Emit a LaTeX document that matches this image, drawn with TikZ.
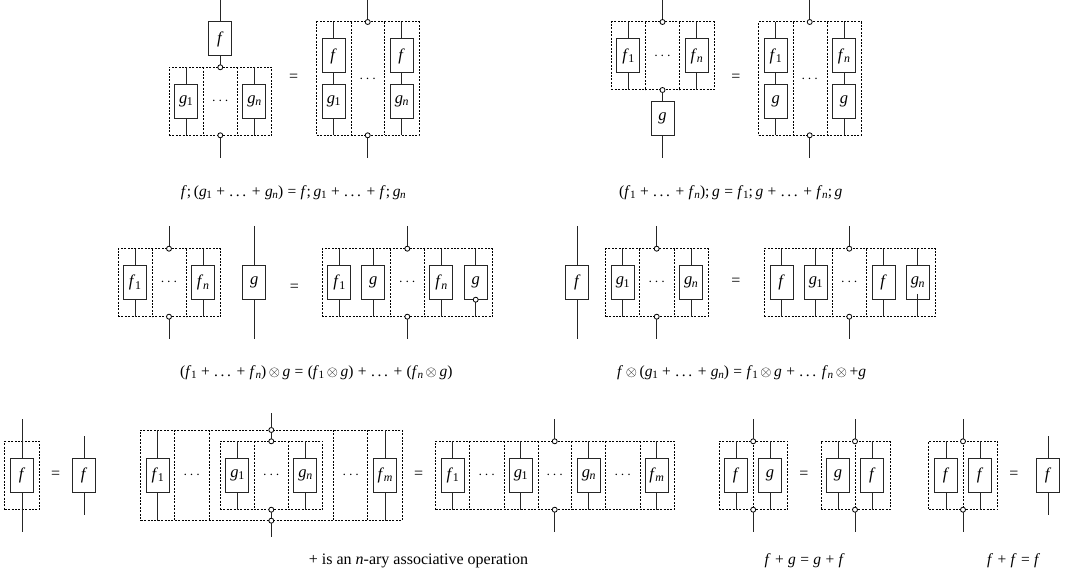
\documentclass[tikz,border=0pt]{standalone}
\usepackage{fontspec}
\setmainfont{Liberation Serif}
\newcommand\sbs[1]{\kern-0.02em\raisebox{-0.14em}{\scalebox{0.72}{#1}}}
\newcommand\Fi{\textit{f}\sbs{1}}
\newcommand\Fn{\textit{f}\sbs{\textit{n}}}
\newcommand\Fm{\textit{f}\sbs{\textit{m}}}
\newcommand\Gi{\textit{g}\sbs{1}}
\newcommand\Gn{\textit{g}\sbs{\textit{n}}}
\newcommand\F{\textit{f}}
\newcommand\G{\textit{g}}
\newcommand\Tens{\,$\otimes$\,}
\newcommand\Dts{.\kern0.17em.\kern0.17em.}
\newcommand\Sm{;\kern0.17em}
\newcommand\capsp{\spaceskip=0.28em\relax}
\tikzset{
  wire/.style={line width=0.9pt,draw=black!85},
  gatebox/.style={draw=black!85,line width=1pt,fill=white,minimum width=23pt,minimum height=34pt,inner sep=0pt,outer sep=0pt,font=\fontsize{16.5}{18}\selectfont},
  dashframe/.style={draw=black,line width=1pt,dash pattern=on 2pt off 1.4pt,inner sep=0pt,outer sep=0pt},
  dashline/.style={draw=black,line width=1pt,dash pattern=on 2pt off 1.4pt},
  junc/.style={circle,draw=black,line width=0.8pt,fill=white,minimum size=5pt,inner sep=0pt,outer sep=0pt},
  dotslabel/.style={inner sep=0pt,font=\fontsize{15.5}{18}\selectfont},
  eqlabel/.style={inner sep=0pt,font=\fontsize{16}{18}\selectfont},
  caption/.style={inner sep=0pt,font=\fontsize{15.5}{18}\selectfont,execute at begin node=\capsp},
  captiontext/.style={inner sep=0pt,font=\fontsize{16}{18}\selectfont},
}
% name, x left, x right, y top, y bottom, divider xs
\newcommand\frm[6]{%
  \node[dashframe,anchor=north west,minimum width={(#3-#2)*1pt},minimum height={(#5-#4)*1pt}] (#1) at (#2,#4) {};
  \foreach \dx in {#6}{\coordinate (dv) at (\dx,0); \draw[dashline] (dv |- #1.north) -- (dv |- #1.south);}
}
% name, x, y, label
\newcommand\gt[4]{\node[gatebox] (#1) at (#2,#3) {#4};}
% gate wired to the top and bottom of a frame: name, frame, x, y, label
\newcommand\gf[5]{\gt{#1}{#3}{#4}{#5}\draw[wire] (#1.north |- #2.north) -- (#1.north); \draw[wire] (#1.south) -- (#1.south |- #2.south);}
% junctions with outside wires: name, frame, x, y of upper end, y of lower end
\newcommand\jn[5]{%
  \coordinate (#1-a) at (#3,#4); \coordinate (#1-b) at (#3,#5);
  \node[junc] (#1-t) at (#1-a |- #2.north) {}; \node[junc] (#1-d) at (#1-b |- #2.south) {};
  \draw[wire] (#1-a) -- (#1-t); \draw[wire] (#1-d) -- (#1-b);
}
\newcommand\dt[3]{\node[dotslabel] (#1) at (#2,#3) {$\cdots$};}
\newcommand\eq[3]{\node[eqlabel] (#1) at (#2,#3) {=};}
\begin{document}
\begin{tikzpicture}[x=1pt,y=-1pt]
\useasboundingbox (0,0) rectangle (1074,577);
% ---- row 1 left
\frm{a}{169}{271.7}{67.3}{135.3}{203.3,237.3}
\gf{a1}{a}{186}{101.3}{\Gi}\gf{a2}{a}{254.3}{101.3}{\Gn}
\dt{ad}{220.3}{101}
\gt{af}{220.3}{39}{\F}
\coordinate (atop) at (220.3,0); \coordinate (abot) at (220.3,158);
\node[junc] (aj1) at (220.3,67.3) {}; \node[junc] (aj2) at (220.3,135.3) {};
\draw[wire] (atop) -- (af.north); \draw[wire] (af.south) -- (aj1); \draw[wire] (aj2) -- (abot);
\eq{ae}{293.7}{77.7}
\frm{b}{316.7}{419}{22}{135.3}{351,384.7}
\gt{b1}{333.7}{56}{\F}\gt{b2}{333.7}{101.3}{\Gi}
\gt{b3}{401.7}{56}{\F}\gt{b4}{401.7}{101.3}{\Gn}
\draw[wire] (b1.north |- b.north) -- (b1.north); \draw[wire] (b1.south) -- (b2.north); \draw[wire] (b2.south) -- (b2.south |- b.south);
\draw[wire] (b3.north |- b.north) -- (b3.north); \draw[wire] (b3.south) -- (b4.north); \draw[wire] (b4.south) -- (b4.south |- b.south);
\dt{bd}{367.7}{79}
\jn{bj}{b}{367.7}{0}{158}
\node[caption] (c1) at (293.3,192.5) {\F\Sm(\Gi{} + \Dts{} + \Gn) = \F\Sm\Gi{} + \Dts{} + \F\Sm\Gn};
% ---- row 1 right
\frm{d}{611.3}{714}{22}{90}{645.7,679.3}
\gf{d1}{d}{628.3}{56}{\Fi}\gf{d2}{d}{696.7}{56}{\Fn}
\dt{dd}{662.5}{56}
\gt{dg}{662.5}{118.7}{\G}
\coordinate (dtop) at (662.5,0); \coordinate (dbot) at (662.5,158);
\node[junc] (dj1) at (662.5,22) {}; \node[junc] (dj2) at (662.5,90) {};
\draw[wire] (dtop) -- (dj1); \draw[wire] (dj2) -- (dg.north); \draw[wire] (dg.south) -- (dbot);
\eq{de}{736}{77.7}
\frm{e}{758.7}{861.3}{22}{135.3}{793,827}
\gt{e1}{775.7}{56}{\Fi}\gt{e2}{775.7}{101.3}{\G}
\gt{e3}{844}{56}{\Fn}\gt{e4}{844}{101.3}{\G}
\draw[wire] (e1.north |- e.north) -- (e1.north); \draw[wire] (e1.south) -- (e2.north); \draw[wire] (e2.south) -- (e2.south |- e.south);
\draw[wire] (e3.north |- e.north) -- (e3.north); \draw[wire] (e3.south) -- (e4.north); \draw[wire] (e4.south) -- (e4.south |- e.south);
\dt{ed}{809.7}{79}
\jn{ej}{e}{809.7}{0}{158}
\node[caption] (c2) at (730.8,192.5) {(\Fi{} + \Dts{} + \Fn)\Sm\G{} = \Fi\Sm\G{} + \Dts{} + \Fn\Sm\G};
% ---- row 2 left
\frm{g}{118}{220.7}{248.7}{316.7}{152,186.3}
\gf{g1}{g}{135}{282.7}{\Fi}\gf{g2}{g}{203}{282.7}{\Fn}
\dt{gd}{169}{282.7}
\jn{gj}{g}{169}{226}{339.3}
\gt{gg}{254.3}{282.7}{\G}
\coordinate (ggt) at (254.3,226); \coordinate (ggb) at (254.3,339.3);
\draw[wire] (ggt) -- (gg.north); \draw[wire] (gg.south) -- (ggb);
\eq{ge}{294.3}{287.5}
\frm{h}{322}{492.7}{248.7}{316.7}{390.3,424}
\gf{h1}{h}{339.3}{282.7}{\Fi}\gf{h2}{h}{373.3}{282.7}{\G}
\gf{h3}{h}{441.3}{282.7}{\Fn}\gf{h4}{h}{475.7}{282.7}{\G}
\dt{hd}{407.3}{282.7}
\jn{hj}{h}{407.3}{226}{339.3}
\node[junc] (hx) at (h4.south) {};
\node[caption] (c3) at (316.3,373) {(\Fi{} + \Dts{} + \Fn)\Tens\G{} = (\Fi\Tens\G) + \Dts{} + (\Fn\Tens\G)};
% ---- row 2 right
\gt{kf}{577.3}{282.7}{\F}
\coordinate (kft) at (577.3,226); \coordinate (kfb) at (577.3,339.3);
\draw[wire] (kft) -- (kf.north); \draw[wire] (kf.south) -- (kfb);
\frm{k}{605.7}{708.3}{248.7}{316.7}{639.7,674}
\gf{k1}{k}{622.7}{282.7}{\Gi}\gf{k2}{k}{691}{282.7}{\Gn}
\dt{kd}{656.7}{282.7}
\jn{kj}{k}{656.7}{226}{339.3}
\eq{ke}{736}{281.7}
\frm{l}{764.3}{935.3}{248.7}{316.7}{832.7,866.7}
\gf{l1}{l}{781.7}{282.7}{\F}\gf{l2}{l}{815.7}{282.7}{\Gi}
\gf{l3}{l}{883.7}{282.7}{\F}\gf{l4}{l}{917.7}{282.7}{\Gn}
\dt{ld}{849.3}{282.7}
\jn{lj}{l}{849.3}{226}{339.3}
\coordinate (lx) at (917.7,294); \draw[wire] (lx) -- (l4.south);
\node[caption] (c4) at (741.7,373) {\F\Tens(\Gi{} + \Dts{} + \Gn) = \Fi\Tens\G{} + \Dts{} \Fn\Tens{}+\G};
% ---- row 3: identity
\frm{m}{4.7}{39.3}{441.3}{509.7}{}
\gt{mf}{22}{475.3}{\F}
\coordinate (mt) at (22,419); \coordinate (mb) at (22,532.3);
\draw[wire] (mt) -- (mf.north); \draw[wire] (mf.south) -- (mb);
\eq{me}{55.7}{475.3}
\gt{nf}{84}{475.3}{\F}
\coordinate (nt) at (84,436); \coordinate (nb) at (84,515);
\draw[wire] (nt) -- (nf.north); \draw[wire] (nf.south) -- (nb);
% ---- row 3: associativity
\frm{p}{140.7}{402}{430}{520.7}{174.7,209.3,333.3,367.7}
\frm{q}{220}{322.7}{441.3}{509.7}{254.3,288.3}
\gf{p1}{p}{157.7}{475.3}{\Fi}\gf{p2}{p}{385}{475.3}{\Fm}
\gf{q1}{q}{237.3}{475.3}{\Gi}\gf{q2}{q}{305.3}{475.3}{\Gn}
\dt{pd1}{191.7}{475.3}\dt{qd}{271.3}{475.3}\dt{pd2}{350.8}{475.3}
\coordinate (pt) at (271.3,413.3); \coordinate (pb) at (271.3,537.3);
\node[junc] (pj1) at (271.3,430) {}; \node[junc] (qj1) at (271.3,441.3) {};
\node[junc] (qj2) at (271.3,509.7) {}; \node[junc] (pj2) at (271.3,520.7) {};
\draw[wire] (pt) -- (pj1); \draw[wire] (pj1) -- (qj1); \draw[wire] (qj2) -- (pj2); \draw[wire] (pj2) -- (pb);
\eq{pe}{418.7}{475.3}
\frm{r}{435.7}{674.3}{441.3}{509.7}{469.7,504,538,571.7,605.7,640}
\gf{r1}{r}{452.7}{475.3}{\Fi}\gf{r2}{r}{520.7}{475.3}{\Gi}\gf{r3}{r}{588.7}{475.3}{\Gn}\gf{r4}{r}{656.7}{475.3}{\Fm}
\dt{rd1}{486.7}{475.3}\dt{rd2}{554.7}{475.3}\dt{rd3}{622.7}{475.3}
\jn{rj}{r}{554.7}{419}{532.3}
\node[captiontext] (c5) at (418.5,560.5) {+ is an \textit{n}-ary associative operation};
% ---- row 3: commutativity
\frm{s}{719}{787.7}{441.3}{509.7}{753.2}
\gf{s1}{s}{736}{475.3}{\F}\gf{s2}{s}{770}{475.3}{\G}
\jn{sj}{s}{753.2}{419}{532.3}
\eq{se}{804}{475.3}
\frm{t}{821}{890}{441.3}{509.7}{855}
\gf{t1}{t}{838}{475.3}{\G}\gf{t2}{t}{872.3}{475.3}{\F}
\jn{tj}{t}{855}{419}{532.3}
\node[caption] (c6) at (804.7,560.5) {\F{} + \G{} = \G{} + \F};
% ---- row 3: idempotence
\frm{u}{928.7}{997.7}{441.3}{509.7}{963}
\gf{u1}{u}{946}{475.3}{\F}\gf{u2}{u}{980}{475.3}{\F}
\jn{uj}{u}{963}{419}{532.3}
\eq{ue}{1014}{475.3}
\gt{vf}{1048}{475.3}{\F}
\coordinate (vt) at (1048,436); \coordinate (vb) at (1048,515);
\draw[wire] (vt) -- (vf.north); \draw[wire] (vf.south) -- (vb);
\node[caption] (c7) at (1013.7,560.5) {\F{} + \F{} = \F};
\end{tikzpicture}
\end{document}
